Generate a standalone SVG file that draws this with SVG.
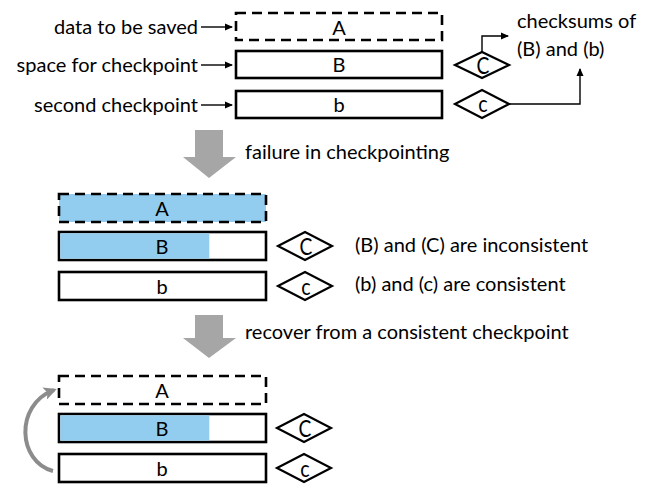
<svg xmlns="http://www.w3.org/2000/svg" width="645" height="487" viewBox="0 0 645 487">
<defs>
<style>
text{font-family:Lato,"Liberation Sans",sans-serif;font-size:20px;fill:#000}
.c{text-anchor:middle}
.e{text-anchor:end}
.d{text-anchor:middle;font-size:24px}
.box{fill:#fff;stroke:#000;stroke-width:2.6}
.dash{fill:#fff;stroke:#000;stroke-width:2.6;stroke-dasharray:10 6}
.blue{fill:#92CDEF}
.dia{fill:#fff;stroke:#000;stroke-width:2.2}
.ln{fill:none;stroke:#000;stroke-width:1.4}
.big{fill:#A6A6A6}
</style>
<marker id="ah" markerWidth="8" markerHeight="8" refX="7" refY="4" orient="auto" markerUnits="userSpaceOnUse">
<path d="M0,0.5 L8,4 L0,7.5 Z" fill="#000"/>
</marker>
<marker id="gh" markerWidth="13" markerHeight="13" refX="10" refY="6.5" orient="auto" markerUnits="userSpaceOnUse">
<path d="M0,0 L13,6.5 L0,13 L3,6.5 Z" fill="#8C8C8C"/>
</marker>
</defs>

<!-- Stage 1 -->
<g id="labels1">
<text class="e" x="198" y="34">data to be saved</text>
<text class="e" x="198" y="72">space for checkpoint</text>
<text class="e" x="198" y="112">second checkpoint</text>
</g>
<g id="A1"><rect class="dash" x="236" y="13" width="206" height="27"/><text class="c" x="339" y="35">A</text></g>
<g id="B1"><rect class="box" x="236" y="51" width="206" height="27"/><text class="c" x="339" y="72">B</text></g>
<g id="b1"><rect class="box" x="236" y="91" width="206" height="27"/><text class="c" x="339" y="112">b</text></g>
<g id="C1"><path class="dia" d="M455,65 L482,52 L509,65 L482,78 Z"/><text class="d" transform="translate(483,74) scale(0.8,1)">C</text></g>
<g id="c1"><path class="dia" d="M455,104 L482,90 L509,104 L482,118 Z"/><text class="d" transform="translate(483,112) scale(0.82,1)">c</text></g>
<g id="note1">
<text x="517" y="28">checksums of</text>
<text x="517" y="56">(B) and (b)</text>
</g>

<g id="connectors">
<line class="ln" x1="201" y1="27" x2="232" y2="27" marker-end="url(#ah)"/>
<line class="ln" x1="201" y1="65" x2="232" y2="65" marker-end="url(#ah)"/>
<line class="ln" x1="201" y1="105" x2="232" y2="105" marker-end="url(#ah)"/>
<polyline class="ln" points="482,52 482,36 508,36" marker-end="url(#ah)"/>
<polyline class="ln" points="509,104 580,104 580,69" marker-end="url(#ah)"/>
<path d="M53,471 C18,462 14,405 54,390" fill="none" stroke="#8C8C8C" stroke-width="4" marker-end="url(#gh)"/>
</g>

<g id="arrow1"><path class="big" d="M195,130 H223 V157 H236 L209,178 L183,157 H195 Z"/></g>
<g id="step1"><text x="245" y="159">failure in checkpointing</text></g>

<!-- Stage 2 -->
<g id="A2"><rect class="dash" x="59" y="194" width="207" height="28" style="fill:#92CDEF"/><text class="c" x="162" y="216">A</text></g>
<g id="B2"><rect class="box" x="59" y="232" width="207" height="28"/><rect class="blue" x="60.3" y="233.3" width="149" height="25.4"/><text class="c" x="162" y="254">B</text></g>
<g id="b2"><rect class="box" x="59" y="272" width="207" height="28"/><text class="c" x="162" y="294">b</text></g>
<g id="C2"><path class="dia" d="M278,246 L305,232 L332,246 L305,260 Z"/><text class="d" transform="translate(306,255) scale(0.8,1)">C</text></g>
<g id="c2"><path class="dia" d="M278,286 L305,272 L332,286 L305,300 Z"/><text class="d" transform="translate(306,295) scale(0.82,1)">c</text></g>
<g id="note2">
<text x="355" y="252">(B) and (C) are inconsistent</text>
<text x="355" y="291">(b) and (c) are consistent</text>
</g>

<g id="arrow2"><path class="big" d="M195,315 H223 V338 H236 L209,358 L183,338 H195 Z"/></g>
<g id="step2"><text x="245" y="339">recover from a consistent checkpoint</text></g>

<!-- Stage 3 -->
<g id="A3"><rect class="dash" x="59" y="376" width="207" height="28"/><text class="c" x="162" y="398">A</text></g>
<g id="B3"><rect class="box" x="59" y="414" width="207" height="28"/><rect class="blue" x="60.3" y="415.3" width="149" height="25.4"/><text class="c" x="162" y="436">B</text></g>
<g id="b3"><rect class="box" x="59" y="454" width="207" height="28"/><text class="c" x="162" y="476">b</text></g>
<g id="C3"><path class="dia" d="M277,428 L304,414 L331,428 L304,442 Z"/><text class="d" transform="translate(305,437) scale(0.8,1)">C</text></g>
<g id="c3"><path class="dia" d="M277,468 L304,454 L331,468 L304,482 Z"/><text class="d" transform="translate(305,477) scale(0.82,1)">c</text></g>
</svg>
